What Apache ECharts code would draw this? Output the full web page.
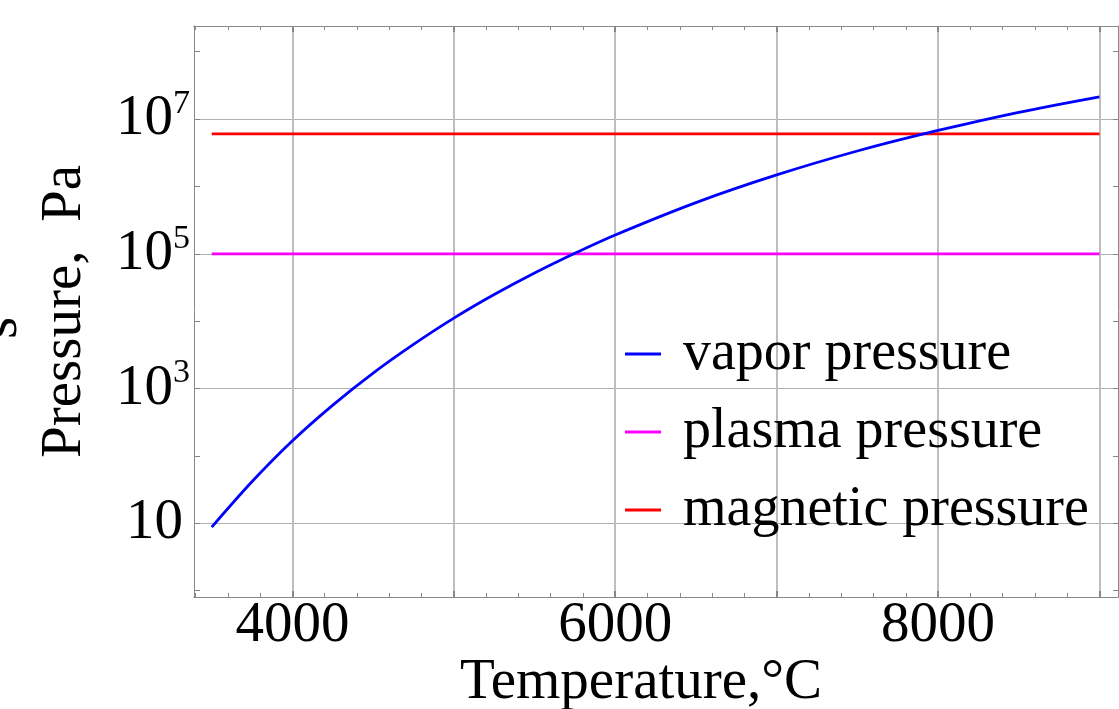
<!DOCTYPE html>
<html>
<head>
<meta charset="utf-8">
<script src="https://cdn.jsdelivr.net/npm/echarts@6/dist/echarts.min.js"></script>
<style>
html,body{margin:0;padding:0;background:#fff;}
#c{width:1119px;height:709px;}
</style>
</head>
<body>
<div id="c"></div>
<script>
// ---- data ----
var temperature = [3500, 3750, 4000, 4250, 4500, 4750, 5000, 5250, 5500, 5750, 6000, 6500, 7000, 7500, 8000, 8500, 9000];
var vaporPressure = [8.81, 41.7, 168, 569, 1698, 4519, 11090, 24830, 51880, 101900, 190500, 575400, 1479000, 3350000, 6761000, 12590000, 21380000];
var plasmaT = [3500, 9000];
var plasmaPressure = [1e5, 1e5];
var magneticT = [3500, 9000];
var magneticPressure = [6.0e6, 6.0e6];
var seriesNames = ['vapor pressure', 'plasma pressure', 'magnetic pressure'];
var seriesColors = ['#0000ff', '#ff00ff', '#ff0000'];

var xLabelTicks = [4000, 6000, 8000];
var xMajorTicks = [4000, 5000, 6000, 7000, 8000, 9000];
var xMinorTicks = [3400, 3600, 3800, 4000, 4200, 4400, 4600, 4800, 5000, 5200, 5400, 5600, 5800, 6000, 6200, 6400, 6600, 6800, 7000, 7200, 7400, 7600, 7800, 8000, 8200, 8400, 8600, 8800, 9000];
var yLabelTicks = [10, 1e3, 1e5, 1e7];
var yDecadeTicks = [1, 10, 100, 1e3, 1e4, 1e5, 1e6, 1e7, 1e8];

var xMin = 3390, xMax = 9115;
var yMin = 0.807, yMax = 2.4e8;

var FONT = 'Liberation Serif';
var frameColor = '#888888';

function pair(xs, ys) { return xs.map(function (x, i) { return [x, ys[i]]; }); }

function yLabel(v) {
  var e = Math.round(Math.log10(v));
  if (e === 1) return '{p|10}';
  return '{b|10}{s|' + e + '}';
}

var chart = echarts.init(document.getElementById('c'), null, {renderer: 'canvas'});

var baseX = {
  type: 'value', min: xMin, max: xMax,
  axisLine: {show: true, onZero: false, lineStyle: {color: frameColor, width: 1}},
  axisLabel: {show: false},
  splitLine: {show: false}
};
var baseY = {
  type: 'log', logBase: 10, min: yMin, max: yMax,
  axisLine: {show: true, onZero: false, lineStyle: {color: frameColor, width: 1}},
  axisLabel: {show: false},
  splitLine: {show: false}
};

var option = {
  animation: false,
  backgroundColor: '#ffffff',
  grid: {left: 194, right: 1, top: 26, bottom: 112, containLabel: false, outerBoundsMode: 'none'},
  xAxis: [
    Object.assign({}, baseX, {
      position: 'bottom',
      name: 'Temperature,°C', nameLocation: 'middle', nameGap: 58, nameMoveOverlap: false,
      nameTextStyle: {fontFamily: FONT, fontSize: 57, color: '#000', padding: [0, 30, 0, 0]},
      axisTick: {show: true, inside: true, length: 6, customValues: xMajorTicks, lineStyle: {color: frameColor, width: 2}},
      axisLabel: {show: true, customValues: xLabelTicks, margin: 1, fontFamily: FONT, fontSize: 57, color: '#000',
        formatter: function (v) { return String(v); }},
      splitLine: {show: true, lineStyle: {color: '#bdbdbd', width: 2}}
    }),
    Object.assign({}, baseX, {
      position: 'top',
      axisTick: {show: true, inside: true, length: 6, customValues: xMajorTicks, lineStyle: {color: frameColor, width: 2}}
    }),
    Object.assign({}, baseX, {
      position: 'top',
      axisTick: {show: true, inside: true, length: 4, customValues: xMinorTicks, lineStyle: {color: frameColor, width: 1}}
    }),
    Object.assign({}, baseX, {
      position: 'bottom',
      axisTick: {show: true, inside: true, length: 4, customValues: xMinorTicks, lineStyle: {color: frameColor, width: 1}}
    })
  ],
  yAxis: [
    Object.assign({}, baseY, {
      position: 'left',
      name: 'Pressure,  Pa', nameLocation: 'middle', nameGap: 100, nameRotate: 90, nameMoveOverlap: false,
      nameTextStyle: {fontFamily: FONT, fontSize: 57, color: '#000'},
      axisTick: {show: true, inside: true, length: 6, customValues: yDecadeTicks, lineStyle: {color: frameColor, width: 1}},
      axisLabel: {
        show: true, customValues: yLabelTicks, margin: 4, formatter: yLabel,
        rich: {
          b: {fontFamily: FONT, fontSize: 57, lineHeight: 64, color: '#000'},
          p: {fontFamily: FONT, fontSize: 57, lineHeight: 64, color: '#000', padding: [0, 7, 0, 0]},
          s: {fontFamily: FONT, fontSize: 34, lineHeight: 34, color: '#000', verticalAlign: 'top'}
        }
      }
    }),
    Object.assign({}, baseY, {
      position: 'right',
      axisTick: {show: true, inside: true, length: 5, customValues: yDecadeTicks, lineStyle: {color: frameColor, width: 1}}
    }),
    Object.assign({}, baseY, {
      position: 'left',
      axisLine: {show: false},
      axisTick: {show: false, customValues: yLabelTicks},
      splitLine: {show: true, lineStyle: {color: '#b0b0b0', width: 1}}
    })
  ],
  legend: {
    orient: 'vertical', left: 620, top: 319,
    itemWidth: 36, itemHeight: 3, itemGap: 18, icon: 'rect',
    textStyle: {fontFamily: FONT, fontSize: 56, lineHeight: 60, color: '#000', padding: [0, 0, 0, 17]},
    data: seriesNames
  },
  graphic: [{
    type: 'text', x: 30, y: 328, rotation: Math.PI / 2,
    style: {text: 's', font: '57px "Liberation Serif"', fill: '#000', align: 'center', verticalAlign: 'bottom'}
  }],
  series: [
    {name: seriesNames[0], type: 'line', xAxisIndex: 0, yAxisIndex: 0, data: pair(temperature, vaporPressure),
      smooth: 0.3, showSymbol: false, lineStyle: {color: seriesColors[0], width: 2.8}, itemStyle: {color: seriesColors[0]}, z: 4},
    {name: seriesNames[1], type: 'line', xAxisIndex: 0, yAxisIndex: 0, data: pair(plasmaT, plasmaPressure),
      showSymbol: false, lineStyle: {color: seriesColors[1], width: 2.8}, itemStyle: {color: seriesColors[1]}, z: 3},
    {name: seriesNames[2], type: 'line', xAxisIndex: 0, yAxisIndex: 0, data: pair(magneticT, magneticPressure),
      showSymbol: false, lineStyle: {color: seriesColors[2], width: 2.8}, itemStyle: {color: seriesColors[2]}, z: 3}
  ]
};
chart.setOption(option);
</script>
</body>
</html>
